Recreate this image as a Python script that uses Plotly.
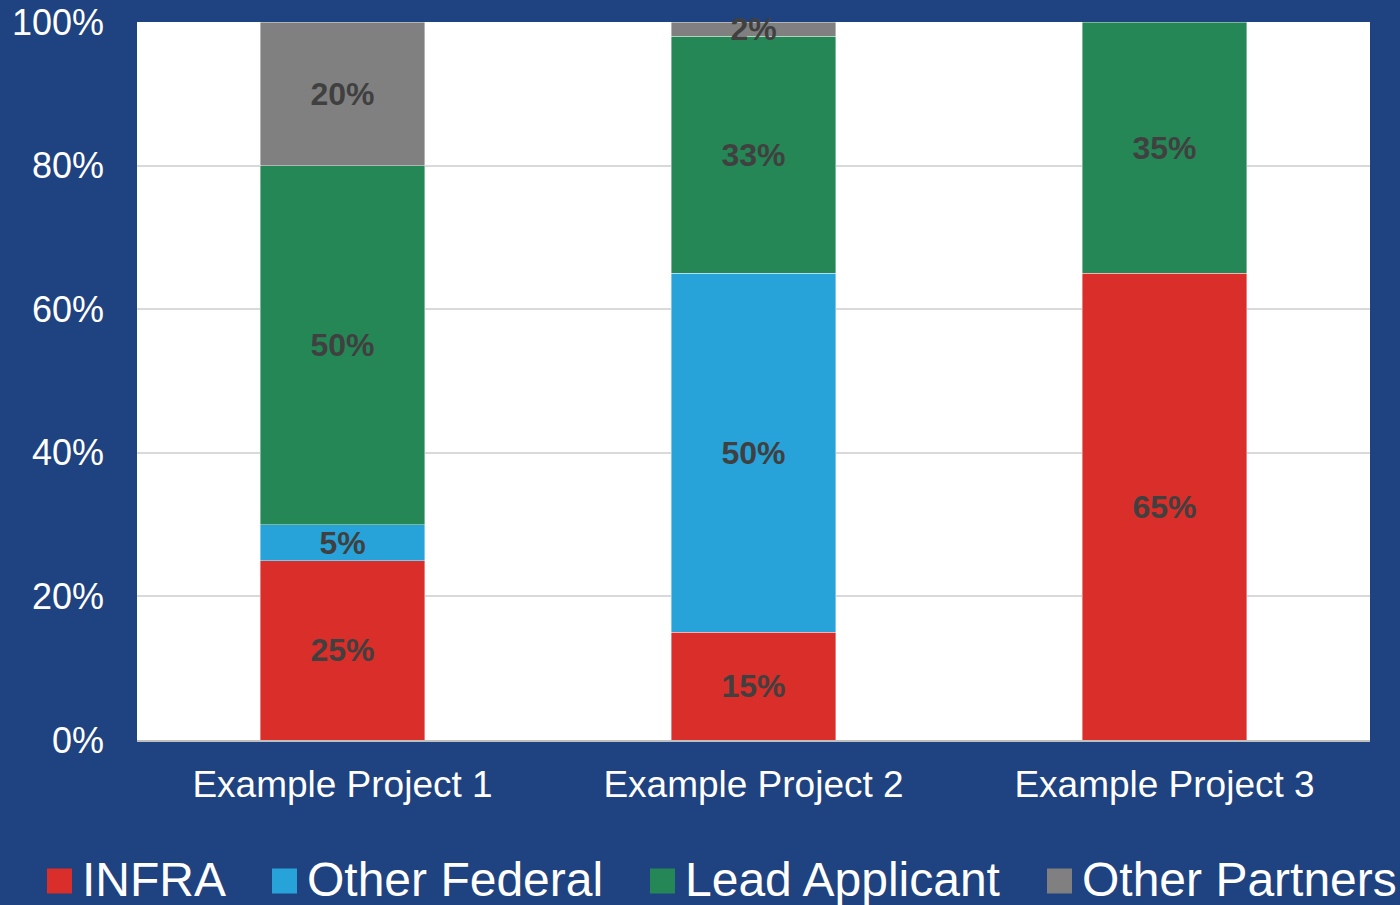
import plotly.graph_objects as go

projects = ["Example Project 1", "Example Project 2", "Example Project 3"]
series_names = ["INFRA", "Other Federal", "Lead Applicant", "Other Partners"]
infra = [25, 15, 65]
other_federal = [5, 50, None]
lead_applicant = [50, 33, 35]
other_partners = [20, 2, None]
colors = ["#D92E29", "#27A3DA", "#268756", "#808080"]

series_values = [infra, other_federal, lead_applicant, other_partners]

FONT = "Arial, Liberation Sans, sans-serif"
BG = "#1F4280"

W, H = 1400, 905
ML, MR, MT, MB = 137, 30, 22, 165
PW, PH = W - ML - MR, H - MT - MB


def px_x(x):
    return (x - ML) / PW


def px_y(y):
    return 1 - (y - MT) / PH


fig = go.Figure()
for name, vals, col in zip(series_names, series_values, colors):
    fig.add_trace(go.Bar(
        name=name,
        x=projects,
        y=vals,
        marker=dict(color=col, line=dict(width=0.8, color="rgba(255,255,255,0.5)")),
        text=[f"{v}%" if v is not None else "" for v in vals],
        textposition="inside",
        insidetextanchor="middle",
        textangle=0,
        textfont=dict(family=FONT, size=32, color="#404040", weight="bold"),
        cliponaxis=False,
        showlegend=False,
    ))

# Custom legend (large square swatches as in the reference)
legend_left = [47, 272, 650, 1047]
sw = 25
ycen = 881
shapes = []
annotations = []
for name, col, lx in zip(series_names, colors, legend_left):
    shapes.append(dict(
        type="rect", xref="paper", yref="paper",
        x0=px_x(lx), x1=px_x(lx + sw),
        y0=px_y(ycen + sw / 2), y1=px_y(ycen - sw / 2),
        fillcolor=col, line=dict(width=0),
    ))
    annotations.append(dict(
        text=name, xref="paper", yref="paper",
        x=px_x(lx + sw + 8), y=px_y(ycen - 2),
        xanchor="left", yanchor="middle", showarrow=False,
        font=dict(family=FONT, size=48, color="#FFFFFF"),
    ))

fig.update_layout(
    barmode="stack",
    bargap=0.6,
    width=W,
    height=H,
    paper_bgcolor=BG,
    plot_bgcolor="#FFFFFF",
    margin=dict(l=ML, r=MR, t=MT, b=MB, autoexpand=False),
    font=dict(family=FONT, color="#FFFFFF"),
    uniformtext=dict(minsize=32, mode="show"),
    showlegend=False,
    shapes=shapes,
    annotations=annotations,
)

fig.update_xaxes(
    showline=True,
    linecolor="#BFBFBF",
    linewidth=1.5,
    ticks="",
    tickfont=dict(family=FONT, size=37, color="#FFFFFF"),
    ticklabelstandoff=11,
    automargin=False,
)
fig.update_yaxes(
    range=[0, 100],
    dtick=20,
    ticksuffix="%",
    showgrid=True,
    gridcolor="#D9D9D9",
    gridwidth=1.5,
    zeroline=False,
    showline=False,
    ticks="",
    tickfont=dict(family=FONT, size=36, color="#FFFFFF"),
    ticklabelstandoff=32,
    automargin=False,
)

fig.write_html(
    "out.html",
    config={"displayModeBar": False},
    post_script="document.body.style.margin='0';document.body.style.overflow='hidden';",
)
